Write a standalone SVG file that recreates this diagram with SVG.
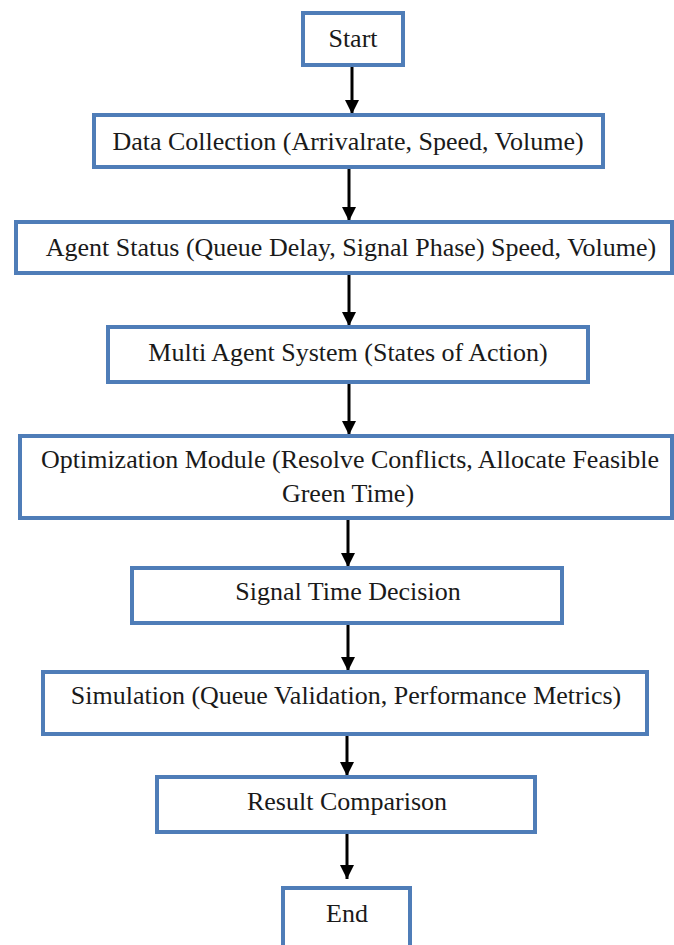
<svg xmlns="http://www.w3.org/2000/svg" width="674" height="945" viewBox="0 0 674 945">
<style>
.box{fill:#ffffff;stroke:#4f7db8;stroke-width:4}
.t{font-size:26px;fill:#1a1a1a;text-anchor:middle}
.c{stroke:#000;stroke-width:3;fill:none;marker-end:url(#ah)}
</style>
<defs>
<marker id="ah" markerUnits="userSpaceOnUse" markerWidth="14" markerHeight="16" refX="14" refY="7" orient="auto">
<path d="M0,0 L14,7 L0,14 Z" fill="#000"/>
</marker>
</defs>
<rect width="674" height="945" fill="#ffffff"/>
<g id="connectors">
<line class="c" x1="352" y1="65" x2="352" y2="114"/>
<line class="c" x1="349" y1="167" x2="349" y2="221"/>
<line class="c" x1="349" y1="273" x2="349" y2="326"/>
<line class="c" x1="349" y1="382" x2="349" y2="435"/>
<line class="c" x1="348" y1="518" x2="348" y2="567"/>
<line class="c" x1="348" y1="623" x2="348" y2="671"/>
<line class="c" x1="347" y1="734" x2="347" y2="776"/>
<line class="c" x1="347" y1="832" x2="347" y2="879"/>
</g>
<g font-family="'Liberation Serif', 'DejaVu Serif', 'Times New Roman', serif">
<g id="start"><rect class="box" x="303" y="13" width="100" height="52"/><text class="t" x="353" y="47">Start</text></g>
<g id="data"><rect class="box" x="94" y="115" width="509" height="52"/><text class="t" x="348" y="150">Data Collection (Arrivalrate, Speed, Volume)</text></g>
<g id="agent"><rect class="box" x="16" y="222" width="656" height="51"/><text class="t" x="351" y="256">Agent Status (Queue Delay, Signal Phase) Speed, Volume)</text></g>
<g id="mas"><rect class="box" x="108" y="327" width="480" height="55"/><text class="t" x="348" y="361">Multi Agent System (States of Action)</text></g>
<g id="opt"><rect class="box" x="20" y="436" width="652" height="82"/><text class="t" x="350" y="468">Optimization Module (Resolve Conflicts, Allocate Feasible</text><text class="t" x="348" y="502">Green Time)</text></g>
<g id="signal"><rect class="box" x="132" y="568" width="430" height="55"/><text class="t" x="348" y="600">Signal Time Decision</text></g>
<g id="sim"><rect class="box" x="43" y="672" width="604" height="62"/><text class="t" x="346" y="704">Simulation (Queue Validation, Performance Metrics)</text></g>
<g id="result"><rect class="box" x="157" y="777" width="378" height="55"/><text class="t" x="347" y="810">Result Comparison</text></g>
<g id="end"><rect class="box" x="283" y="888" width="127" height="62"/><text class="t" x="347" y="922">End</text></g>
</g>
</svg>
